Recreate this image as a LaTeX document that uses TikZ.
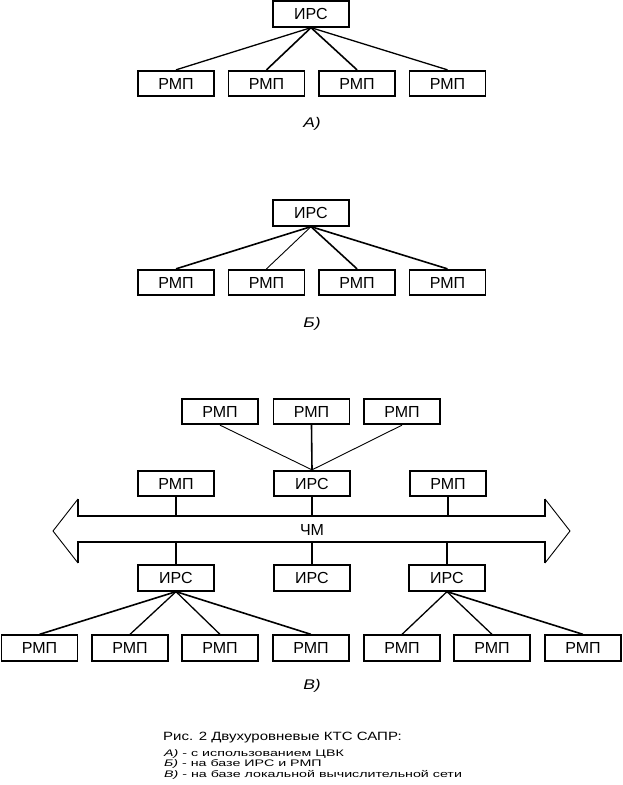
\documentclass[tikz,border=0pt]{standalone}
\usepackage{fontspec}
\setmainfont{Liberation Sans}
\newfontfamily\capfont[FakeStretch=1.25]{Liberation Sans}
\newfontfamily\capsmall[FakeStretch=1.5]{Liberation Sans}
\begin{document}
\begin{tikzpicture}[x=1pt,y=-1pt,
  box/.style={draw, line width=1.8pt, minimum width=76pt, minimum height=25.5pt, inner sep=0pt,
    font=\fontsize{16}{18}\selectfont},
  thk/.style={line width=1.6pt},
  med/.style={line width=1.3pt},
  thn/.style={line width=0.9pt},
  lab/.style={font=\capfont\itshape\fontsize{14}{16}\selectfont},
  busthick/.style={line width=1.8pt},
  busthin/.style={line width=0.9pt, line join=miter}]
\useasboundingbox (0,0) rectangle (623,785);

% ---------- A ----------
\node[box] (a0) at (311,14) {ИРС};
\node[box] (a1) at (176,83.5) {РМП};
\node[box] (a2) at (266.5,83.5) {РМП};
\node[box] (a3) at (357,83.5) {РМП};
\node[box] (a4) at (447.5,83.5) {РМП};
\draw[med] (a0.south) -- (a1.north);
\draw[thk] (a0.south) -- (a2.north);
\draw[thk] (a0.south) -- (a3.north);
\draw[med] (a0.south) -- (a4.north);
\node[lab] (la) at (312,124) {А)};

% ---------- Б ----------
\node[box] (b0) at (311,213) {ИРС};
\node[box] (b1) at (176,282.5) {РМП};
\node[box] (b2) at (266.5,282.5) {РМП};
\node[box] (b3) at (357,282.5) {РМП};
\node[box] (b4) at (447.5,282.5) {РМП};
\draw[thk] (b0.south) -- (b1.north);
\draw[thn] (b0.south) -- (b2.north);
\draw[thk] (b0.south) -- (b3.north);
\draw[thk] (b0.south) -- (b4.north);
\node[lab] (lb) at (312,324) {Б)};

% ---------- В ----------
\node[box] (t1) at (220,411.5) {РМП};
\node[box] (t2) at (311.5,411.5) {РМП};
\node[box] (t3) at (402,411.5) {РМП};
\node[box] (r1) at (176,483.5) {РМП};
\node[box] (r2) at (312,483.5) {ИРС};
\node[box] (r3) at (448,483.5) {РМП};
\draw[thn] (t1.south) -- (r2.north);
\draw[thk] (t2.south) -- (r2.north);
\draw[thn] (t3.south) -- (r2.north);

% bus
\coordinate (btl) at (78,516);
\coordinate (btr) at (545,516);
\coordinate (bbl) at (78,542);
\coordinate (bbr) at (545,542);
\draw[busthick] (78,499) -- (btl) -- (btr) -- (545,499);
\draw[busthick] (78,563) -- (bbl) -- (bbr) -- (545,563);
\draw[busthin] (78,499) -- (53,531) -- (78,563);
\draw[busthin] (545,499) -- (570,531) -- (545,563);
\node[font=\fontsize{16}{18}\selectfont] (chm) at (312,530) {ЧМ};

\node[box] (i1) at (176,578) {ИРС};
\node[box] (i2) at (312,578) {ИРС};
\node[box] (i3) at (447,578) {ИРС};

\coordinate (u1) at (r1.south |- btl);
\coordinate (u2) at (r2.south |- btl);
\coordinate (u3) at (r3.south |- btl);
\coordinate (d1) at (i1.north |- bbl);
\coordinate (d2) at (i2.north |- bbl);
\coordinate (d3) at (i3.north |- bbl);
\draw[thk] (r1.south) -- (u1);
\draw[thk] (r2.south) -- (u2);
\draw[thk] (r3.south) -- (u3);
\draw[thk] (d1) -- (i1.north);
\draw[thk] (d2) -- (i2.north);
\draw[thk] (d3) -- (i3.north);

\node[box] (p1) at (39.5,648) {РМП};
\node[box] (p2) at (130,648) {РМП};
\node[box] (p3) at (220,648) {РМП};
\node[box] (p4) at (311,648) {РМП};
\node[box] (p5) at (402,648) {РМП};
\node[box] (p6) at (492,648) {РМП};
\node[box] (p7) at (583,648) {РМП};
\draw[thk] (i1.south) -- (p1.north);
\draw[med] (i1.south) -- (p2.north);
\draw[med] (i1.south) -- (p3.north);
\draw[thk] (i1.south) -- (p4.north);
\draw[med] (i3.south) -- (p5.north);
\draw[med] (i3.south) -- (p6.north);
\draw[thk] (i3.south) -- (p7.north);
\node[lab] (lc) at (312,686) {В)};

% ---------- caption ----------
\node[anchor=base west, inner sep=0pt, font=\capfont\fontsize{12}{14}\selectfont] (c1) at (163,740) {Рис. 2 Двухуровневые КТС САПР:};
\node[anchor=base west, inner sep=0pt, font=\capsmall\fontsize{9.5}{11}\selectfont] (c2) at (164,756) {\textit{А)} - с использованием ЦВК};
\node[anchor=base west, inner sep=0pt, font=\capsmall\fontsize{9.5}{11}\selectfont] (c3) at (164,766.5) {\textit{Б)} - на базе ИРС и РМП};
\node[anchor=base west, inner sep=0pt, font=\capsmall\fontsize{9.5}{11}\selectfont] (c4) at (164,777) {\textit{В)} - на базе локальной вычислительной сети};
\end{tikzpicture}
\end{document}
